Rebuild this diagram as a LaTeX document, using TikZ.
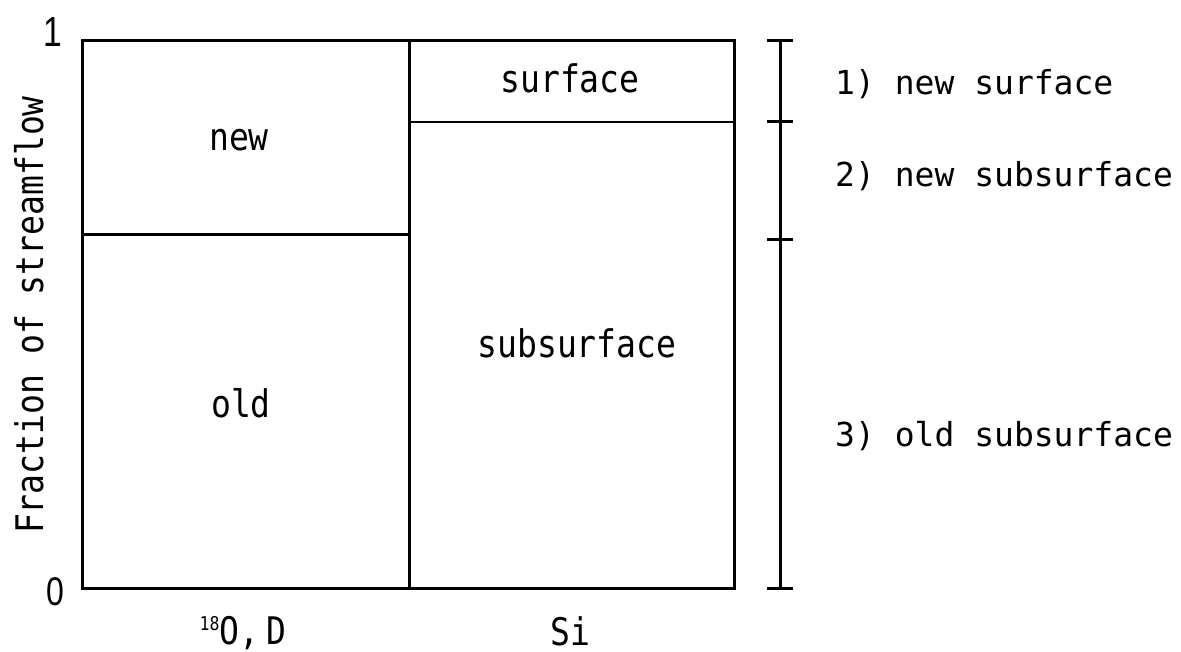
\documentclass[tikz,border=0pt]{standalone}
\usepackage{fontspec}
\setmainfont{DejaVu Sans Mono}
\newfontfamily\gothicin{DejaVu Sans Mono}[FakeStretch=0.87]
\newfontfamily\gothicout{DejaVu Sans Mono}
\newfontfamily\ticksans{Liberation Sans}[FakeStretch=0.8]
\begin{document}
\begin{tikzpicture}[x=1pt,y=-1pt,
  frame/.style={line width=3pt},
  divide/.style={line width=2pt},
  lbl/.style={inner sep=0pt,anchor=base,font=\gothicin\fontsize{38}{40}\selectfont},
  side/.style={inner sep=0pt,anchor=base west,font=\gothicout\fontsize{33}{36}\selectfont},
  tick/.style={inner sep=0pt,anchor=base,font=\ticksans\fontsize{#1}{42}\selectfont}]
\useasboundingbox (0,0) rectangle (1181,652);
% stacked bars
\draw[frame] (82,41) rectangle (734,588);
\draw[frame] (409,41) -- (409,588);
\draw[frame] (82,235) -- (409,235);
\draw[divide] (409,122) -- (734,122);
% flow-path bracket
\coordinate (b0) at (780,41);
\coordinate (b1) at (780,122);
\coordinate (b2) at (780,240);
\coordinate (b3) at (780,588);
\draw[frame] (b0) -- (b3);
\foreach \c in {b0,b1,b2,b3} \draw[frame] ([xshift=-13pt]\c) -- ([xshift=13pt]\c);
% bar labels
\node[lbl] (new) at (239,151) {new};
\node[lbl] (old) at (241,417) {old};
\node[lbl] (surf) at (570,93) {surface};
\node[lbl] (subsurf) at (577,357) {subsurface};
% axis
\node[lbl] (xa) at (243,644) {\spaceskip=7pt\relax{\fontsize{19}{20}\selectfont\raisebox{14pt}{18}}O, D};
\node[lbl] (xb) at (570,645) {Si};
\node[lbl,rotate=90] (ya) at (43,315) {Fraction of streamflow};
\node[tick=42] (t1) at (53,47) {1};
\node[tick=40] (t0) at (55,605) {0};
% flow-path labels
\node[side] (p1) at (835,95) {1) new surface};
\node[side] (p2) at (835,187) {2) new subsurface};
\node[side] (p3) at (835,446) {3) old subsurface};
\end{tikzpicture}
\end{document}
